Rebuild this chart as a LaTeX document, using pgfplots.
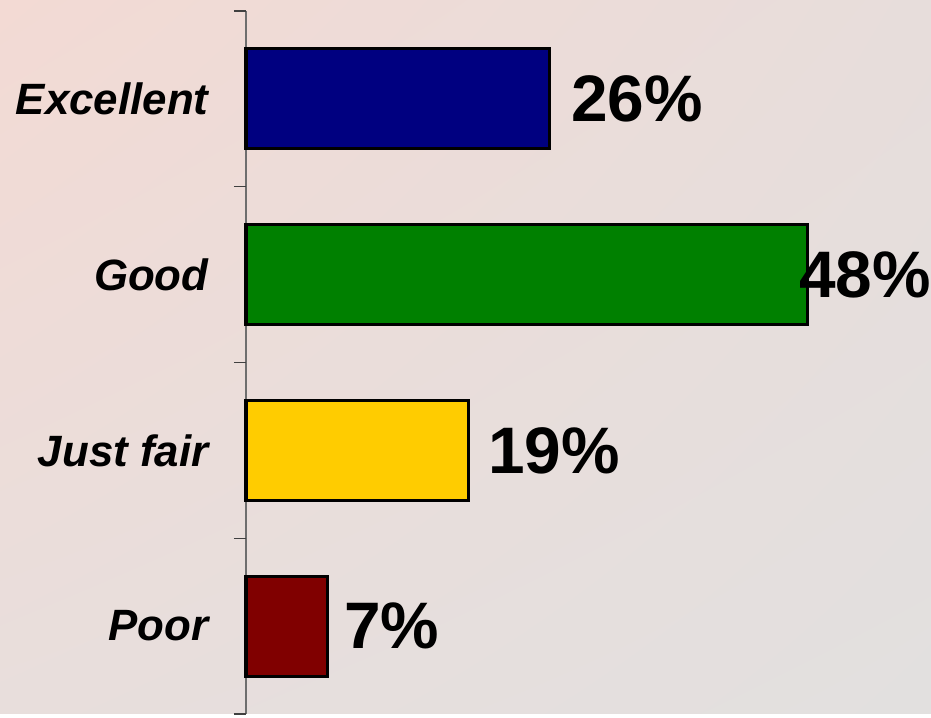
\documentclass[border=0pt]{standalone}
\usepackage{pgfplots}
\pgfplotsset{compat=1.18}
\usetikzlibrary{shadings}
\usepackage{fontspec}
\setmainfont{Liberation Sans}
\definecolor{bgtl}{RGB}{243,218,212}
\definecolor{bgtr}{RGB}{231,221,219}
\definecolor{bgbl}{RGB}{232,222,220}
\definecolor{bgbr}{RGB}{226,224,223}
\definecolor{cnavy}{RGB}{0,0,128}
\definecolor{cgreen}{RGB}{0,128,0}
\definecolor{cgold}{RGB}{255,204,0}
\definecolor{cmaroon}{RGB}{128,0,0}
\definecolor{axgray}{RGB}{110,110,110}
\begin{document}
\begin{tikzpicture}
\shade[upper left=bgtl, upper right=bgtr, lower left=bgbl, lower right=bgbr] (0,0) rectangle (931bp,714bp);
\begin{axis}[
  at={(246bp,0bp)}, anchor=south west,
  scale only axis,
  width=678bp, height=703bp,
  xmin=0, xmax=58,
  ymin=-0.5, ymax=3.5,
  y dir=reverse,
  axis x line=none,
  axis y line*=left,
  axis line style={-, draw=axgray, line width=1.2bp},
  ytick={0,1,2,3},
  yticklabels={Excellent,Good,Just fair,Poor},
  yticklabel style={font=\fontsize{44}{48}\selectfont\bfseries\itshape, xshift=-34bp},
  major tick length=0pt,
  extra y ticks={-0.5,0.5,1.5,2.5,3.5},
  extra y tick labels={},
  extra y tick style={tick align=outside, major tick length=12bp, tick style={draw=black!75, line width=1.2bp}},
  clip=false,
  xbar, bar shift=0pt, bar width=100bp,
]
\addplot[fill=cnavy, draw=black, line width=3bp] coordinates {(26,0)};
\addplot[fill=cgreen, draw=black, line width=3bp] coordinates {(48,1)};
\addplot[fill=cgold, draw=black, line width=3bp] coordinates {(19,2)};
\addplot[fill=cmaroon, draw=black, line width=3bp] coordinates {(7,3)};
\addplot[draw=none, mark=none, xbar=false,
  nodes near coords, point meta=explicit symbolic,
  nodes near coords style={anchor=west, inner sep=0pt, font=\fontsize{66}{70}\selectfont\bfseries}]
  coordinates {(27.8,0) [26\%] (47.3,1) [48\%] (20.7,2) [19\%] (8.4,3) [7\%]};
\end{axis}
\end{tikzpicture}
\end{document}
